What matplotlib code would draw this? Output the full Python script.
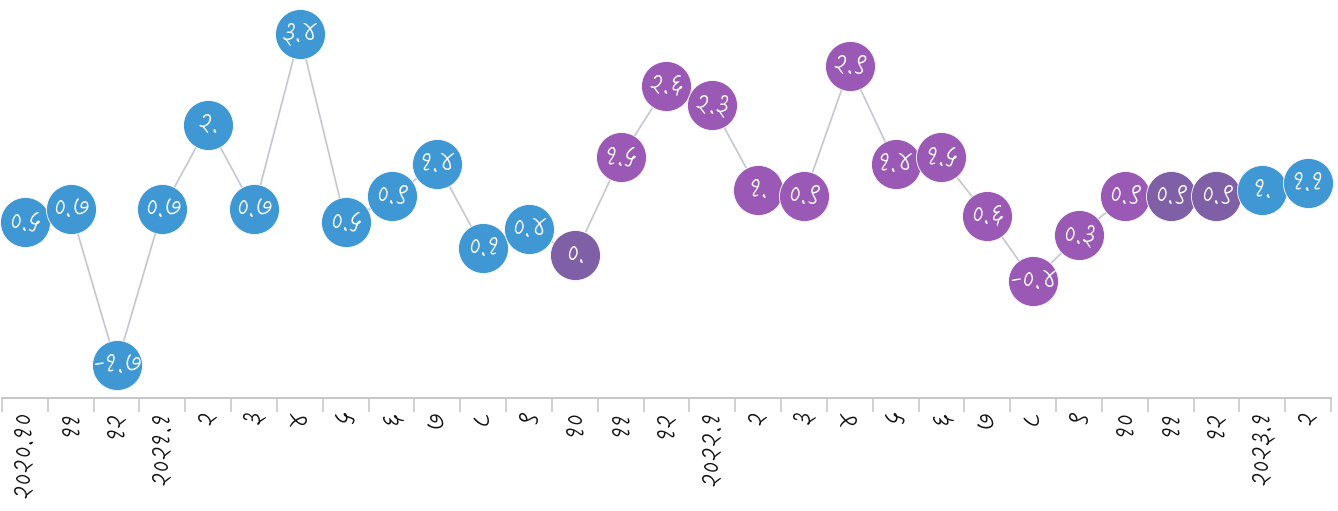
import matplotlib
matplotlib.use('Agg')
import matplotlib.pyplot as plt

plt.rcParams['font.family'] = ['Kalam', 'DejaVu Sans']

# months, Devanagari digits as in the reference
months = ['२०२०.१०', '११', '१२',
          '२०२१.१', '२', '३', '४', '५', '६', '७', '८', '९', '१०', '११', '१२',
          '२०२२.१', '२', '३', '४', '५', '६', '७', '८', '९', '१०', '११', '१२',
          '२०२३.१', '२']
values = [0.5, 0.7, -1.7, 0.7, 2.0, 0.7, 3.4, 0.5, 0.9, 1.4, 0.1, 0.4, 0.0, 1.5, 2.6,
          2.3, 1.0, 0.9, 2.9, 1.4, 1.5, 0.6, -0.4, 0.3, 0.9, 0.9, 0.9, 1.0, 1.1]
groups = ['b'] * 12 + ['d'] + ['p'] * 12 + ['d', 'd'] + ['b', 'b']

colors = {'b': '#3f98d4', 'p': '#9b59b6', 'd': '#7f5fa5'}
deva = str.maketrans('0123456789', '०१२३४५६७८९')

def fmt(v):
    s = f'{v:.1f}'
    if s.endswith('0'):
        s = s[:-1]
    return s.translate(deva)

fig = plt.figure(figsize=(13.38, 5.11), dpi=100)
ax = fig.add_axes([2 / 1338, 113 / 511, 1329 / 1338, 398 / 511])
x = list(range(len(values)))

ax.plot(x, values, color='#c3c6cf', lw=1.2, zorder=1)
for i, v in enumerate(values):
    ax.scatter(i, v, s=1300, color=colors[groups[i]], edgecolor='white', lw=0.6,
               zorder=2 + i, clip_on=False)
    ax.text(i, v, fmt(v), color='white', fontsize=21, fontweight='light',
            ha='center', va='center', zorder=2 + i, clip_on=False)

ax.set_xlim(-0.5, len(values) - 0.5)
ax.set_ylim(-2.2, 3.923)
for s in ['top', 'right', 'left']:
    ax.spines[s].set_visible(False)
ax.spines['bottom'].set_color('#c8c8c8')
ax.spines['bottom'].set_linewidth(1.5)
ax.set_yticks([])
ax.set_xticks([i - 0.5 for i in range(len(values) + 1)])
ax.set_xticklabels([])
ax.tick_params(axis='x', which='major', length=10, width=1.2, color='#c8c8c8')
ax.set_xticks(x, minor=True)
ax.set_xticklabels(months, minor=True, rotation=90, fontsize=21, fontweight='light',
                   color='#111111')
ax.tick_params(axis='x', which='minor', length=0, pad=9)
for lbl in ax.get_xticklabels(minor=True):
    lbl.set_va('top')

fig.savefig('out.png')
